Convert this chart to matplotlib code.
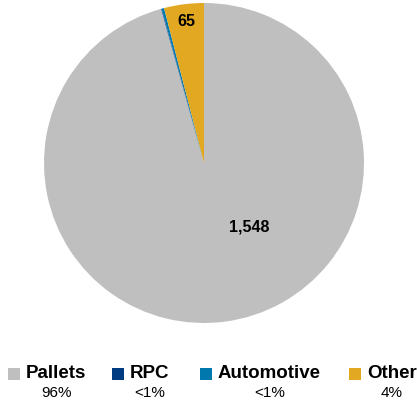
import matplotlib.pyplot as plt
import numpy as np
from matplotlib.patches import Rectangle

plt.rcParams["font.family"] = ["Liberation Sans", "DejaVu Sans"]

# ── data ────────────────────────────────────────────────────────────────────
categories = ["Pallets", "RPC", "Automotive", "Other"]
values = [1548, 1, 4, 65]
shares = ["96%", "<1%", "<1%", "4%"]
value_labels = ["1,548", "", "", "65"]
colors = ["#BFBFBF", "#003A80", "#0078AE", "#E2A822"]

W, H = 417, 403
fig = plt.figure(figsize=(W / 100, H / 100), dpi=100)
ax = fig.add_axes([44 / W, 80 / H, 320 / W, 320 / H])

wedges, _ = ax.pie(values, colors=colors, startangle=90, counterclock=False,
                   radius=1.0, wedgeprops=dict(linewidth=0))
ax.set_xlim(-1, 1)
ax.set_ylim(-1, 1)
ax.set_aspect("equal")
ax.axis("off")

# data labels: Other sits near the rim, Pallets placed lower right as in Excel
label_pos = {"Other": (0.89, None), "Pallets": (0.49, -55.0)}
for w, cat, txt in zip(wedges, categories, value_labels):
    if not txt:
        continue
    dist, ang = label_pos[cat]
    if ang is None:
        ang = (w.theta1 + w.theta2) / 2
    r = np.deg2rad(ang)
    ax.text(dist * np.cos(r), dist * np.sin(r), txt, ha="center", va="center",
            fontsize=11.5, fontweight="bold", color="black")

# legend row with percentages underneath
sq_x = [8, 112, 200, 349]
for x0, cat, pct, col in zip(sq_x, categories, shares, colors):
    fig.add_artist(Rectangle((x0 / W, (H - 380) / H), 12 / W, 12 / H,
                             transform=fig.transFigure, color=col, lw=0))
    t = fig.text((x0 + 18) / W, (H - 374) / H, cat, ha="left", va="center",
                 fontsize=13.5, fontweight="bold")
    fig.canvas.draw()
    bb = t.get_window_extent()
    cx = (bb.x0 + bb.x1) / 2 / W
    fig.text(cx, (H - 393) / H, pct, ha="center", va="center", fontsize=11)

fig.savefig("out.png", dpi=100)
